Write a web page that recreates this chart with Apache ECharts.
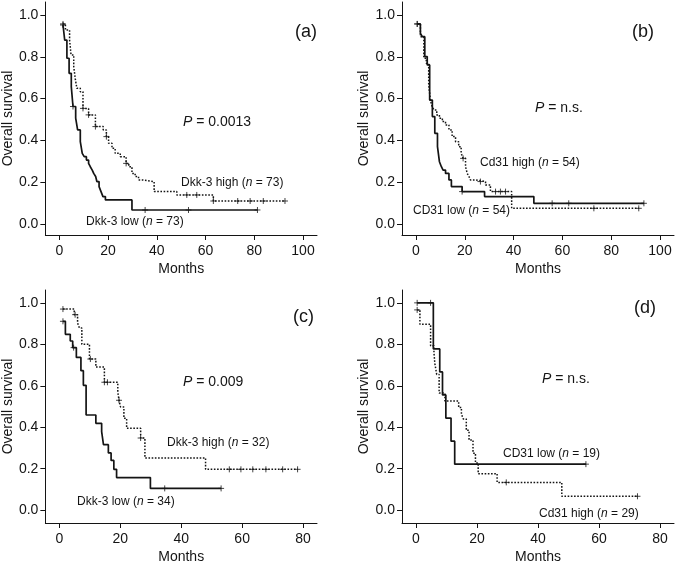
<!DOCTYPE html>
<html><head><meta charset="utf-8">
<script src="https://cdn.jsdelivr.net/npm/echarts@6/dist/echarts.min.js"></script>
<style>html,body{margin:0;padding:0;background:#fff}#c{width:675px;height:565px}</style>
</head><body><div id="c"></div><script>
// ---------- data (months, survival) ----------
const aLow = [[1.5,0.952],[2.2,0.880],[3.1,0.793],[4.0,0.721],[4.9,0.657],[5.6,0.562],[6.7,0.506],[7.5,0.450],[8.6,0.394],[9.4,0.338],[10.2,0.322],[11.1,0.306],[12.0,0.290],[12.7,0.274],[13.5,0.258],[14.1,0.242],[14.9,0.227],[15.4,0.203],[16.3,0.179],[17.1,0.155],[17.9,0.131],[18.9,0.115],[29.8,0.067],[81.3,0.067]];
const aLowCens = [[1.5,0.952],[5.6,0.562],[35.2,0.067],[53.0,0.067],[81.3,0.067]];
const aHigh = [[1.5,0.957],[2.5,0.928],[4.2,0.880],[4.8,0.809],[5.9,0.753],[6.6,0.689],[7.2,0.649],[8.6,0.633],[9.7,0.553],[12.0,0.522],[14.8,0.466],[18.0,0.450],[19.3,0.418],[20.2,0.386],[21.6,0.362],[22.9,0.338],[25.0,0.322],[27.4,0.290],[28.5,0.274],[29.8,0.242],[31.1,0.227],[32.5,0.211],[33.9,0.203],[38.9,0.155],[48.2,0.139],[63.2,0.110],[92.6,0.110]];
const aHighCens = [[1.5,0.957],[9.7,0.553],[12.0,0.522],[14.8,0.466],[19.3,0.418],[27.4,0.290],[52.3,0.139],[56.4,0.139],[63.2,0.110],[73.2,0.110],[78.3,0.110],[83.7,0.110],[92.6,0.110]];

const bLow = [[0.5,0.957],[1.8,0.912],[2.6,0.896],[3.6,0.801],[4.6,0.761],[5.6,0.593],[6.7,0.514],[7.7,0.434],[8.8,0.370],[9.6,0.298],[10.4,0.274],[11.1,0.258],[12.1,0.242],[13.5,0.211],[14.5,0.179],[18.9,0.155],[28.1,0.131],[48.3,0.099],[93.4,0.099]];
const bLowCens = [[0.5,0.957],[18.9,0.155],[55.8,0.099],[62.6,0.099],[93.4,0.099]];
const bHigh = [[0.5,0.957],[1.8,0.896],[3.2,0.793],[4.2,0.769],[5.2,0.665],[5.9,0.593],[6.6,0.561],[7.4,0.545],[8.5,0.522],[9.6,0.506],[10.8,0.490],[12.1,0.474],[13.5,0.450],[14.8,0.418],[16.2,0.394],[17.5,0.370],[18.5,0.338],[19.3,0.314],[20.3,0.274],[21.0,0.242],[21.7,0.227],[22.3,0.211],[24.4,0.203],[28.5,0.187],[30.5,0.155],[39.2,0.075],[91.3,0.075]];
const bHighCens = [[0.5,0.957],[19.3,0.314],[26.4,0.203],[32.6,0.155],[34.6,0.155],[36.7,0.155],[72.9,0.075],[91.3,0.075]];

const cLow = [[1.2,0.911],[2.0,0.848],[3.6,0.816],[4.4,0.784],[5.6,0.737],[7.1,0.673],[7.9,0.602],[8.8,0.459],[12.0,0.419],[13.9,0.379],[14.5,0.316],[16.1,0.276],[17.0,0.240],[17.9,0.197],[18.8,0.157],[29.9,0.105],[53.1,0.105]];
const cLowCens = [[1.2,0.911],[4.7,0.784],[34.6,0.105],[53.1,0.105]];
const cHigh = [[1.2,0.970],[4.9,0.943],[6.0,0.903],[6.6,0.879],[7.4,0.800],[9.9,0.729],[12.0,0.690],[14.8,0.617],[19.2,0.570],[19.6,0.530],[20.1,0.498],[21.2,0.443],[22.1,0.395],[26.7,0.348],[28.1,0.252],[48.0,0.197],[78.2,0.197]];
const cHighCens = [[1.2,0.970],[5.2,0.943],[10.2,0.729],[14.8,0.617],[15.8,0.617],[19.6,0.530],[26.7,0.348],[55.8,0.197],[59.6,0.197],[63.5,0.197],[67.8,0.197],[73.3,0.197],[78.2,0.197]];

const dLow = [[0.4,1.0],[5.7,0.778],[7.8,0.667],[8.7,0.556],[9.8,0.444],[11.5,0.333],[12.7,0.222],[55.7,0.222]];
const dLowCens = [[0.4,1.0],[4.8,1.0],[55.7,0.222]];
const dHigh = [[0.4,0.966],[1.3,0.897],[4.8,0.793],[5.9,0.759],[6.2,0.707],[6.8,0.655],[7.6,0.565],[9.5,0.526],[14.0,0.495],[14.9,0.464],[15.5,0.440],[16.5,0.385],[17.4,0.338],[18.7,0.275],[19.5,0.228],[20.4,0.176],[26.6,0.134],[47.8,0.067],[72.6,0.067]];
const dHighCens = [[0.4,0.966],[29.6,0.134],[72.6,0.067]];

const xTicksTop = [0,20,40,60,80,100];
const xTicksBottom = [0,20,40,60,80];
const yTicks = [0,0.2,0.4,0.6,0.8,1.0];

// ---------- styling ----------
const FONT = "'Liberation Sans', Arial, Helvetica, sans-serif";
const INK = '#141414';
const PLUS = 'path://M0,-1L0,1M-1,0L1,0';

const grids = [
  {left:45, top:2, width:272, height:233},
  {left:402, top:2, width:272, height:233},
  {left:45, top:290, width:272, height:236},
  {left:402, top:290, width:272, height:236}
];
const xRange = [[-5.74,105.74],[-5.74,105.74],[-4.57,84.57],[-4.57,84.57]];
const yRange = [[-0.0526,1.062],[-0.0526,1.062],[-0.0619,1.062],[-0.0619,1.062]];

function xAx(i){
  const ticks = i < 2 ? xTicksTop : xTicksBottom;
  return {type:'value', gridIndex:i, min:xRange[i][0], max:xRange[i][1],
    axisLine:{show:true, onZero:false, lineStyle:{color:INK, width:1}},
    axisTick:{show:true, length:5, customValues:ticks, lineStyle:{color:INK, width:1}},
    axisLabel:{show:true, customValues:ticks, margin:9, fontSize:14, color:INK, fontFamily:FONT},
    splitLine:{show:false},
    name:'Months', nameLocation:'middle', nameGap:27,
    nameTextStyle:{fontSize:14, color:INK, fontFamily:FONT}};
}
function yAx(i){
  return {type:'value', gridIndex:i, min:yRange[i][0], max:yRange[i][1],
    axisLine:{show:true, onZero:false, lineStyle:{color:INK, width:1}},
    axisTick:{show:true, length:5, customValues:yTicks, lineStyle:{color:INK, width:1}},
    axisLabel:{show:true, customValues:yTicks, margin:7, fontSize:14, color:INK, fontFamily:FONT,
      formatter:v => Number(v).toFixed(1)},
    splitLine:{show:false},
    name:'Overall survival', nameLocation:'middle', nameGap:29,
    nameTextStyle:{fontSize:14, color:INK, fontFamily:FONT}};
}
function curve(i, data, dotted){
  return {type:'line', xAxisIndex:i, yAxisIndex:i, data:data, step:'end',
    symbol:'none', showSymbol:false, silent:true, animation:false,
    lineStyle:{color:INK, width:dotted ? 1.5 : 1.7, type: dotted ? [1.6,1.6] : 'solid'}};
}
function cens(i, data){
  return {type:'scatter', xAxisIndex:i, yAxisIndex:i, data:data, symbol:PLUS, symbolSize:6,
    silent:true, animation:false, itemStyle:{color:'none', borderColor:INK, borderWidth:1}};
}
function txt(x, y, text, size){
  return {type:'text', x:x, y:y, silent:true,
    style:{text:text, fill:INK, fontSize:size, fontFamily:FONT,
      align:'left', verticalAlign:'middle', textAlign:'left', textVerticalAlign:'middle',
      rich:{i:{fontStyle:'italic', fontSize:size, fontFamily:FONT, fill:INK, color:INK}}}};
}

const chart = echarts.init(document.getElementById('c'), null, {renderer:'canvas'});
chart.setOption({
  animation:false,
  backgroundColor:'#fff',
  grid: grids,
  xAxis: [0,1,2,3].map(xAx),
  yAxis: [0,1,2,3].map(yAx),
  series: [
    curve(0,aLow,false), curve(0,aHigh,true), cens(0,aLowCens), cens(0,aHighCens),
    curve(1,bLow,false), curve(1,bHigh,true), cens(1,bLowCens), cens(1,bHighCens),
    curve(2,cLow,false), curve(2,cHigh,true), cens(2,cLowCens), cens(2,cHighCens),
    curve(3,dLow,false), curve(3,dHigh,true), cens(3,dLowCens), cens(3,dHighCens)
  ],
  graphic: [
    txt(183,122,'{i|P} = 0.0013',14),
    txt(181,183,'Dkk-3 high ({i|n} = 73)',12),
    txt(86,222,'Dkk-3 low ({i|n} = 73)',12),
    txt(295,32,'(a)',18),
    txt(535,108,'{i|P} = n.s.',14),
    txt(480,163,'Cd31 high ({i|n} = 54)',12),
    txt(413,211,'CD31 low ({i|n} = 54)',12),
    txt(632,32,'(b)',18),
    txt(183,382,'{i|P} = 0.009',14),
    txt(167,443,'Dkk-3 high ({i|n} = 32)',12),
    txt(77,502,'Dkk-3 low ({i|n} = 34)',12),
    txt(293,317,'(c)',18),
    txt(542,379,'{i|P} = n.s.',14),
    txt(503,454,'CD31 low ({i|n} = 19)',12),
    txt(539,514,'Cd31 high ({i|n} = 29)',12),
    txt(634,308,'(d)',18)
  ]
});
</script></body></html>
